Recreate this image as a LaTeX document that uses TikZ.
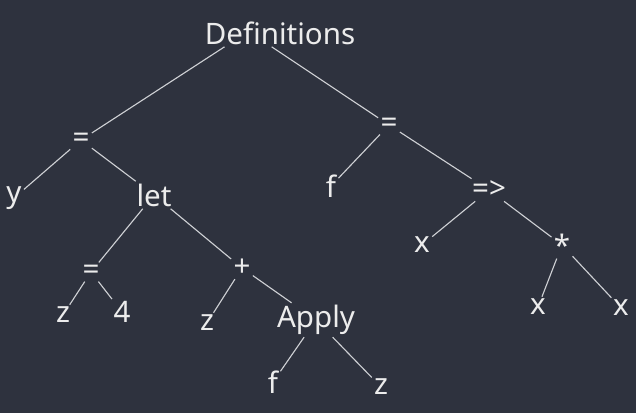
\documentclass[tikz,border=0pt]{standalone}
\usepackage{fontspec}
\setmainfont{Noto Sans}
\definecolor{bgdark}{RGB}{46,50,62}
\definecolor{inkwhite}{RGB}{236,236,236}
\definecolor{edgegray}{RGB}{206,208,212}

\begin{document}
\begin{tikzpicture}[x=0.025cm, y=-0.025cm,
  every node/.style={text=inkwhite, inner sep=1.5pt, font=\fontsize{21}{23}\selectfont},
  branch/.style={draw=edgegray, line width=0.8pt}]
\fill[bgdark] (0,0) rectangle (636,413);
\useasboundingbox (0,0) rectangle (636,413);
\node (defs) at (280,33) {Definitions};
\node (eqA) at (81,140) {=};
\node (y) at (14,198) {y};
\node (let) at (154,195) {let};
\node (eqB) at (91,272) {=};
\node (zA) at (63,315) {z};
\node (four) at (122,312) {4};
\node (plus) at (242,268) {+};
\node (zB) at (207,323) {z};
\node (apply) at (316,320) {Apply};
\node (fA) at (273,382) {f};
\node (zC) at (381,387) {z};
\node (eqC) at (389,125) {=};
\node (fB) at (331,186) {f};
\node (arrow) at (489,190) {=>};
\node (xA) at (422,245) {x};
\node (star) at (562,245) {*};
\node (xB) at (538,307) {x};
\node (xC) at (621,308) {x};
\draw[branch] (defs.194) -- (eqA);
\draw[branch] (defs.239) -- (eqC);
\draw[branch] (eqA) -- (y);
\draw[branch] (eqA) -- (let);
\draw[branch] (let) -- (eqB);
\draw[branch] (let) -- (plus);
\draw[branch] (eqB) -- (zA);
\draw[branch] (eqB) -- (four);
\draw[branch] (plus) -- (zB);
\draw[branch] (plus) -- (apply);
\draw[branch] (apply) -- (fA);
\draw[branch] (apply) -- (zC);
\draw[branch] (eqC) -- (fB);
\draw[branch] (eqC) -- (arrow);
\draw[branch] (arrow) -- (xA);
\draw[branch] (arrow) -- (star);
\draw[branch] (star) -- (xB);
\draw[branch] (star) -- (xC);
\end{tikzpicture}
\end{document}
